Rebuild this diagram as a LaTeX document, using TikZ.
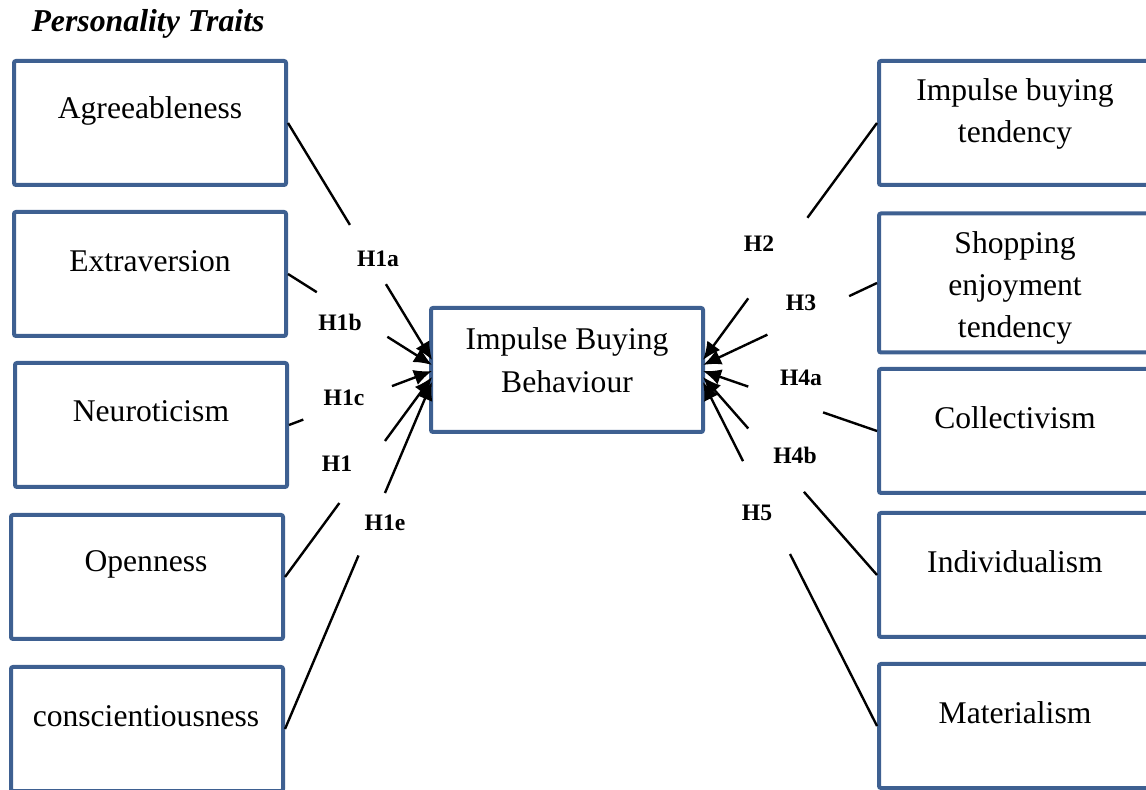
\documentclass[tikz,border=0pt]{standalone}
\usepackage{fontspec}
\setmainfont{Liberation Serif}
\usetikzlibrary{calc,arrows.meta}
\definecolor{boxblue}{RGB}{62,96,145}

\begin{document}
\begin{tikzpicture}[x=0.5pt,y=-0.5pt,
  box/.style={draw=boxblue,line width=2pt,rounded corners=1pt,minimum width=136pt,minimum height=62pt,inner sep=0pt},
  box text/.style={font=\fontsize{15.8}{21.2}\selectfont,align=center,inner sep=0pt},
  hyp/.style={font=\fontsize{11.8}{14}\selectfont\bfseries,inner sep=0pt},
  link/.style={line width=1.2pt},
  tip/.style={-{Latex[length=9pt,width=8pt]}}]

\useasboundingbox (0,0) rectangle (1146,790);

\node[font=\fontsize{15.9}{19}\selectfont\bfseries\itshape] (title) at (148,24) {Personality Traits};

% personality traits
\node[box] (agr) at (150,123) {};
\node[box] (ext) at (150,274) {};
\node[box] (neu) at (151,425) {};
\node[box] (ope) at (147,577) {};
\node[box] (con) at (147,729) {};

\node[box text] (agr-t) at (150,111) {Agreeableness};
\node[box text] (ext-t) at (150,261) {Extraversion};
\node[box text] (neu-t) at (151,411) {Neuroticism};
\node[box text] (ope-t) at (146,564) {Openness};
\node[box text] (con-t) at (146,716) {conscientiousness};

% centre
\node[box] (ibb) at (567,370) {};
\node[box text] (ibb-t) at (567,360) {Impulse Buying\\Behaviour};

% right side
\node[box] (ibt) at (1015,123) {};
\node[box,minimum height=69.5pt] (set) at (1015,283) {};
\node[box] (col) at (1015,431) {};
\node[box] (ind) at (1015,575) {};
\node[box] (mat) at (1015,726) {};

\node[box text] (ibt-t) at (1015,114) {Impulse buying\\tendency};
\node[box text] (set-t) at (1015,288) {Shopping\\enjoyment\\tendency};
\node[box text] (col-t) at (1015,418) {Collectivism};
\node[box text] (ind-t) at (1015,562) {Individualism};
\node[box text] (mat-t) at (1015,713) {Materialism};

% arrow tips on the centre box
\coordinate (l1) at (432,360);
\coordinate (l2) at (432,365);
\coordinate (l3) at (432,371);
\coordinate (l4) at (432,377);
\coordinate (l5) at (432,382);
\coordinate (r1) at (703,360);
\coordinate (r2) at (703,365);
\coordinate (r3) at (703,371);
\coordinate (r4) at (703,377);
\coordinate (r5) at (703,382);

% links, broken where the labels sit
\draw[link] (agr.east) -- ($(agr.east)!0.43!(l1)$);
\draw[link,tip] ($(agr.east)!0.68!(l1)$) -- (l1);
\draw[link] (ext.east) -- ($(ext.east)!0.20!(l2)$);
\draw[link,tip] ($(ext.east)!0.69!(l2)$) -- (l2);
\draw[link] (neu.east) -- ($(neu.east)!0.10!(l3)$);
\draw[link,tip] ($(neu.east)!0.72!(l3)$) -- (l3);
\draw[link] (ope.east) -- ($(ope.east)!0.37!(l4)$);
\draw[link,tip] ($(ope.east)!0.68!(l4)$) -- (l4);
\draw[link] (con.east) -- ($(con.east)!0.50!(l5)$);
\draw[link,tip] ($(con.east)!0.68!(l5)$) -- (l5);

\draw[link] (ibt.west) -- ($(ibt.west)!0.40!(r1)$);
\draw[link,tip] ($(ibt.west)!0.74!(r1)$) -- (r1);
\draw[link] (set.west) -- ($(set.west)!0.16!(r2)$);
\draw[link,tip] ($(set.west)!0.63!(r2)$) -- (r2);
\draw[link] (col.west) -- ($(col.west)!0.31!(r3)$);
\draw[link,tip] ($(col.west)!0.74!(r3)$) -- (r3);
\draw[link] (ind.west) -- ($(ind.west)!0.42!(r4)$);
\draw[link,tip] ($(ind.west)!0.74!(r4)$) -- (r4);
\draw[link] (mat.west) -- ($(mat.west)!0.50!(r5)$);
\draw[link,tip] ($(mat.west)!0.77!(r5)$) -- (r5);

% hypotheses
\node[hyp] (h1a) at (378,259) {H1a};
\node[hyp] (h1b) at (340,322) {H1b};
\node[hyp] (h1c) at (344,398) {H1c};
\node[hyp] (h1d) at (337,464) {H1};
\node[hyp] (h1e) at (385,523) {H1e};
\node[hyp] (h2) at (759,244) {H2};
\node[hyp] (h3) at (801,303) {H3};
\node[hyp] (h4a) at (801,378) {H4a};
\node[hyp] (h4b) at (795,455) {H4b};
\node[hyp] (h5) at (757,513) {H5};
\end{tikzpicture}
\end{document}
